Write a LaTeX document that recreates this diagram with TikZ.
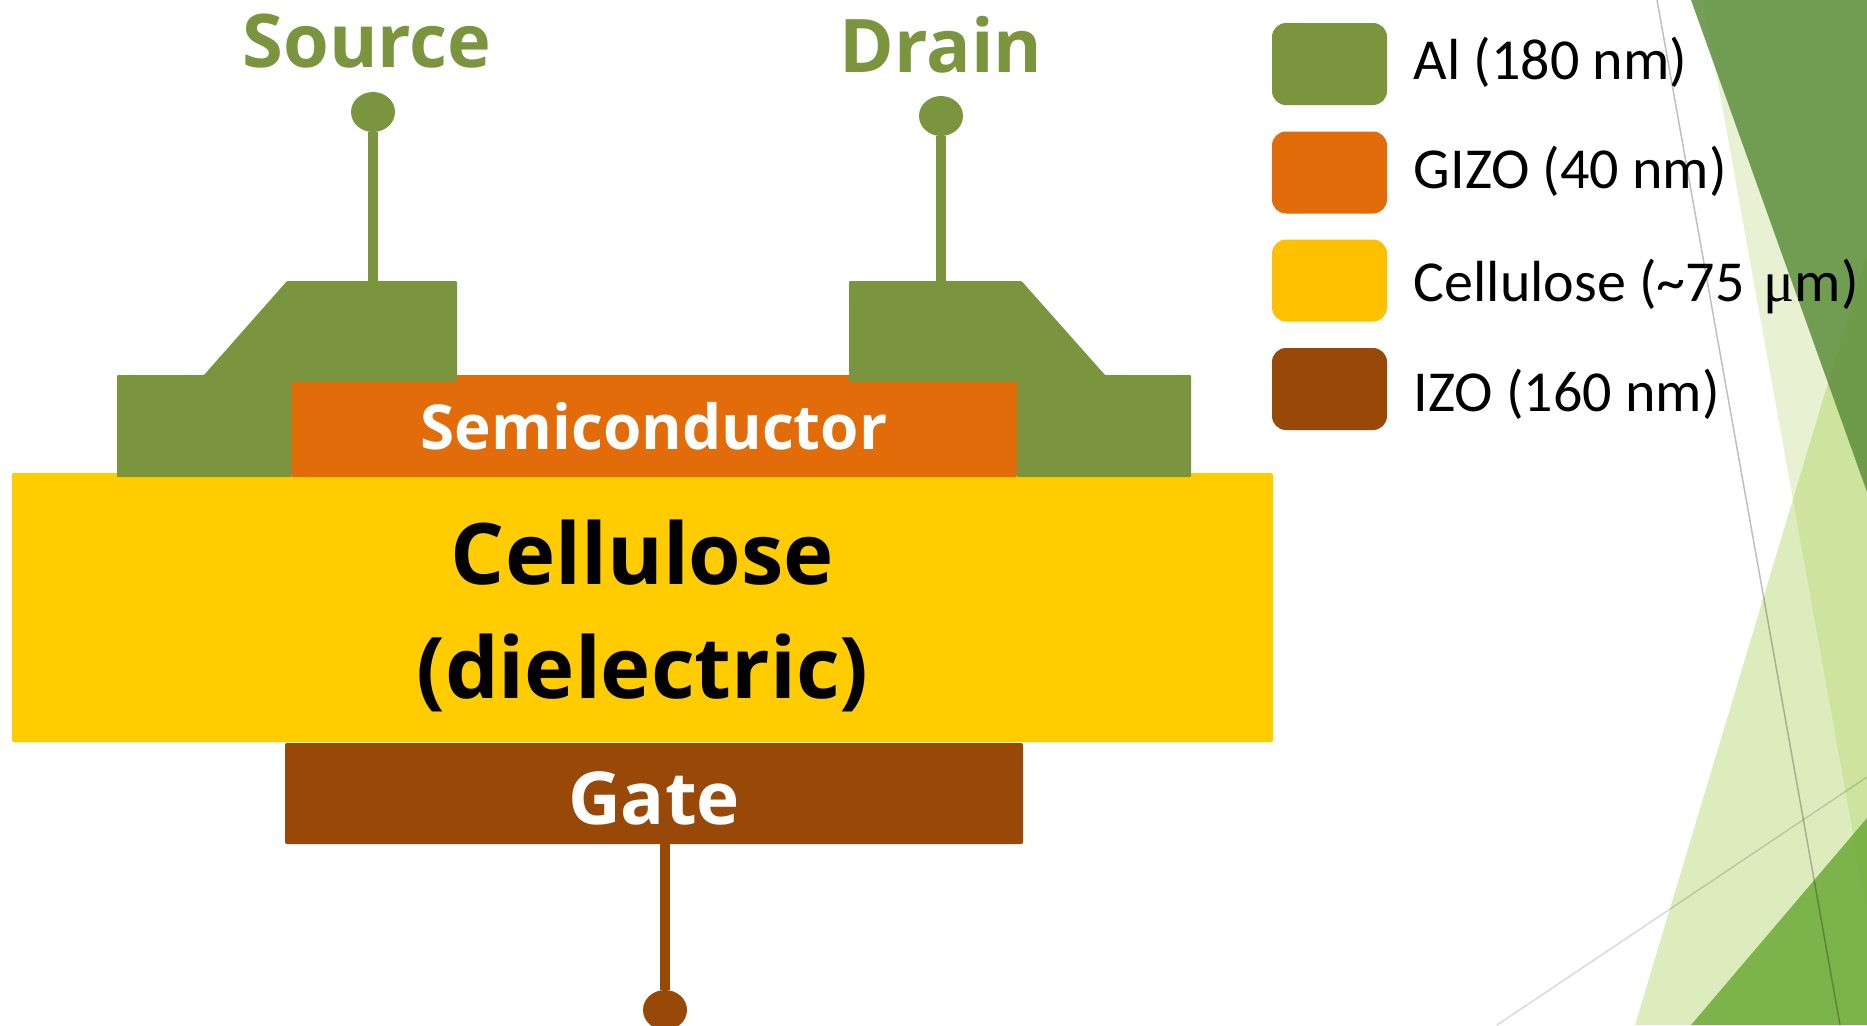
\documentclass[tikz,border=0pt]{standalone}
\usepackage{fontspec}
\setmainfont{Carlito}
\newfontfamily\boldface[Scale=1.0]{Open Sans Bold}
\newfontfamily\symface{Liberation Serif}
\usepackage{tikz}
\usetikzlibrary{shapes.geometric,positioning}
\definecolor{algreen}{HTML}{7B953F}
\definecolor{gizo}{HTML}{E36C0A}
\definecolor{celluloselayer}{HTML}{FFCC00}
\definecolor{celluloseswatch}{HTML}{FFC000}
\definecolor{izo}{HTML}{984807}
\tikzset
{
    layer/.style = {rectangle, rounded corners=1pt, inner sep=0pt, align=center, text=white},
    swatch/.style = {rectangle, rounded corners=7pt, inner sep=0pt, minimum width=57.5pt, minimum height=41pt},
    legendtext/.style = {inner sep=0pt, font=\fontsize{29}{32}\selectfont, text height=20pt, text depth=8pt, right=13pt of #1},
    ball/.style = {ellipse, inner sep=0pt, minimum width=22pt, minimum height=20pt},
    stem/.style = {line width=5pt},
    terminal/.style = {anchor=base, inner sep=0pt, font=\boldface\fontsize{37}{40}\selectfont, text=algreen}
}

\begin{document}
\begin{tikzpicture}[x=0.5pt,y=-0.5pt]
\useasboundingbox (0,0) rectangle (1867,1025);
\fill[fill=white] (0,0) rectangle (1867,1025);

\fill[fill={rgb,255:red,144;green,194;blue,38}, fill opacity=0.2] (1703,0) -- (1867,911) -- (1867,0) -- cycle;
\fill[fill={rgb,255:red,144;green,194;blue,38}, fill opacity=0.3] (1867,253) -- (1635,1025) -- (1867,1025) -- cycle;
\fill[fill={rgb,255:red,93;green,143;blue,60}, fill opacity=0.85] (1691,0) -- (1867,492) -- (1867,0) -- cycle;
\fill[fill={rgb,255:red,100;green,166;blue,47}, fill opacity=0.8] (1691,1025) -- (1867,818) -- (1867,1025) -- cycle;
\draw[black, opacity=0.25, line width=0.75pt] (1657,0) -- (1840,1025);
\draw[black, opacity=0.15, line width=0.75pt] (1497,1025) -- (1867,777);

\node[layer, fill=celluloselayer, minimum width=630.5pt, minimum height=134.5pt] (cellulose) at (642.5,607.5) {};
\node[layer, text=black, font=\boldface\fontsize{42.5}{57}\selectfont, yshift=-4.2pt] (cellulosetext) at (cellulose) {Cellulose\\(dielectric)};
\node[layer, fill=gizo, minimum width=363pt, minimum height=51pt, font=\boldface\fontsize{31}{36}\selectfont] (semiconductor) at (654,426) {Semiconductor};
\node[layer, fill=izo, minimum width=369pt, minimum height=50.5pt, text height=31pt, font=\boldface\fontsize{36.5}{40}\selectfont] (gate) at (654,793.5) {Gate};

\fill[algreen, rounded corners=0.5pt] (117,477) -- (117,375) -- (204,375) -- (287,281) -- (457,281) -- (457,382) -- (291.5,382) -- (291.5,477) -- cycle;
\fill[algreen, rounded corners=0.5pt] (1191,477) -- (1191,375) -- (1105,375) -- (1021.5,281) -- (849,281) -- (849,382) -- (1017,382) -- (1017,477) -- cycle;
\coordinate (sourcepad) at (373,282);
\coordinate (drainpad) at (941,282);

\node[ball, fill=algreen] (sourceball) at (373,112) {};
\node[ball, fill=algreen] (drainball) at (941,116) {};
\node[ball, fill=izo] (gateball) at (665,1010) {};
\draw[stem, algreen] (sourceball) -- (sourcepad);
\draw[stem, algreen] (drainball) -- (drainpad);
\draw[stem, izo] (gateball) -- (gateball |- gate.south);

\node[terminal] (source) at (367,67) {Source};
\node[terminal] (drain) at (941,72) {Drain};

\node[swatch, fill=algreen] (alswatch) at (1329.5,64) {};
\node[swatch, fill=gizo] (gizoswatch) at (1329.5,172.5) {};
\node[swatch, fill=celluloseswatch] (celluloseswatch) at (1329.5,280.5) {};
\node[swatch, fill=izo] (izoswatch) at (1329.5,389) {};
\node[legendtext=alswatch, yshift=-1.75pt] (allabel) {Al (180 nm)};
\node[legendtext=gizoswatch, yshift=-1.75pt] (gizolabel) {GIZO (40 nm)};
\node[legendtext=celluloseswatch, yshift=-4.5pt] (celluloselabel) {Cellulose (\textasciitilde75\,\,{\symface μ}m)};
\node[legendtext=izoswatch, yshift=-5pt] (izolabel) {IZO (160 nm)};
\end{tikzpicture}
\end{document}
